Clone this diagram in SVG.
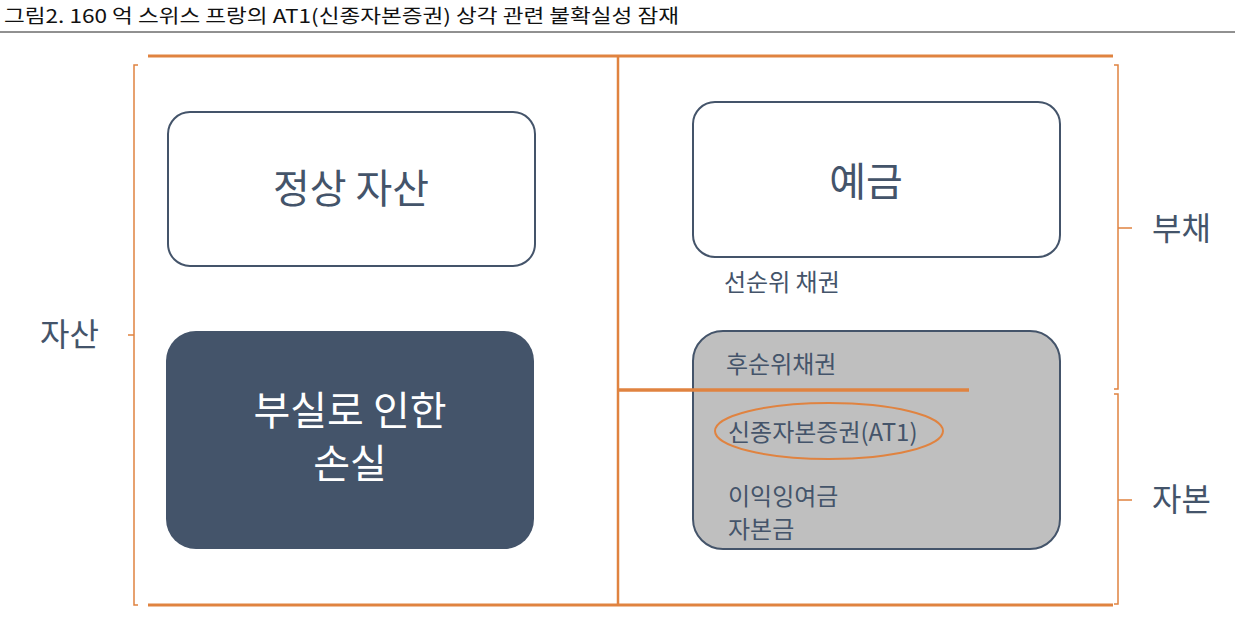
<svg xmlns="http://www.w3.org/2000/svg" width="1235" height="622" viewBox="0 0 1235 622">
<style>
.t{font-family:"Noto Sans CJK KR","Noto Sans",sans-serif;fill:#44546a}
.o{stroke:#e08340;fill:none}
.br{stroke:#e08340;fill:none;stroke-width:1.5}
</style>
<rect width="1235" height="622" fill="#fff"/>
<text x="4" y="23" font-family="Noto Sans CJK KR,sans-serif" font-size="19" fill="#111" textLength="675" lengthAdjust="spacingAndGlyphs">그림2.   160 억 스위스 프랑의 AT1(신종자본증권) 상각 관련 불확실성 잠재</text>
<line x1="0" y1="32" x2="1235" y2="32" stroke="#222" stroke-width="1"/>
<g id="connectors">
<line class="o" stroke-width="3" x1="148" y1="56" x2="1113" y2="56"/>
<line class="o" stroke-width="3" x1="148" y1="605" x2="1113" y2="605"/>
<line class="o" stroke-width="2.5" x1="618" y1="56" x2="618" y2="605"/>
<path class="br" d="M138,65 H134 V605 H138 M134,335 H128"/>
<path class="br" d="M1114,65 H1118 V389 H1114 M1118,228 H1132"/>
<path class="br" d="M1114,394 H1118 V604 H1114 M1118,500 H1132"/>
</g>
<g id="n1"><rect x="168" y="112" width="367" height="154" rx="22" fill="#fff" stroke="#44546a" stroke-width="2"/>
<text class="t" x="351" y="203" font-size="40" text-anchor="middle">정상 자산</text></g>
<g id="n2"><rect x="166" y="331" width="368" height="218" rx="30" fill="#44546a"/>
<text x="350" y="425" font-size="40" text-anchor="middle" font-family="Noto Sans CJK KR,sans-serif" fill="#fff">부실로 인한</text>
<text x="350" y="478" font-size="40" text-anchor="middle" font-family="Noto Sans CJK KR,sans-serif" fill="#fff">손실</text></g>
<g id="n3"><rect x="693" y="102" width="367" height="155" rx="22" fill="#fff" stroke="#44546a" stroke-width="2"/>
<text class="t" x="866" y="196" font-size="40" text-anchor="middle">예금</text></g>
<g id="n4"><text class="t" x="724" y="291" font-size="24">선순위 채권</text></g>
<g id="n5"><rect x="693" y="331" width="367" height="218" rx="30" fill="#bfbfbf" stroke="#44546a" stroke-width="2"/>
<text class="t" x="726" y="373" font-size="24">후순위채권</text>
<text class="t" x="728" y="441" font-size="24">신종자본증권(AT1)</text>
<text class="t" x="728" y="505" font-size="24">이익잉여금</text>
<text class="t" x="728" y="538" font-size="24">자본금</text>
<ellipse class="o" stroke-width="2" cx="829" cy="431" rx="114" ry="28"/></g>
<line class="o" stroke-width="3.5" x1="618" y1="390" x2="969" y2="390"/>
<g id="l1"><text class="t" x="40" y="346" font-size="32">자산</text></g>
<g id="l2"><text class="t" x="1152" y="240" font-size="32">부채</text></g>
<g id="l3"><text class="t" x="1152" y="511" font-size="32">자본</text></g>
</svg>
